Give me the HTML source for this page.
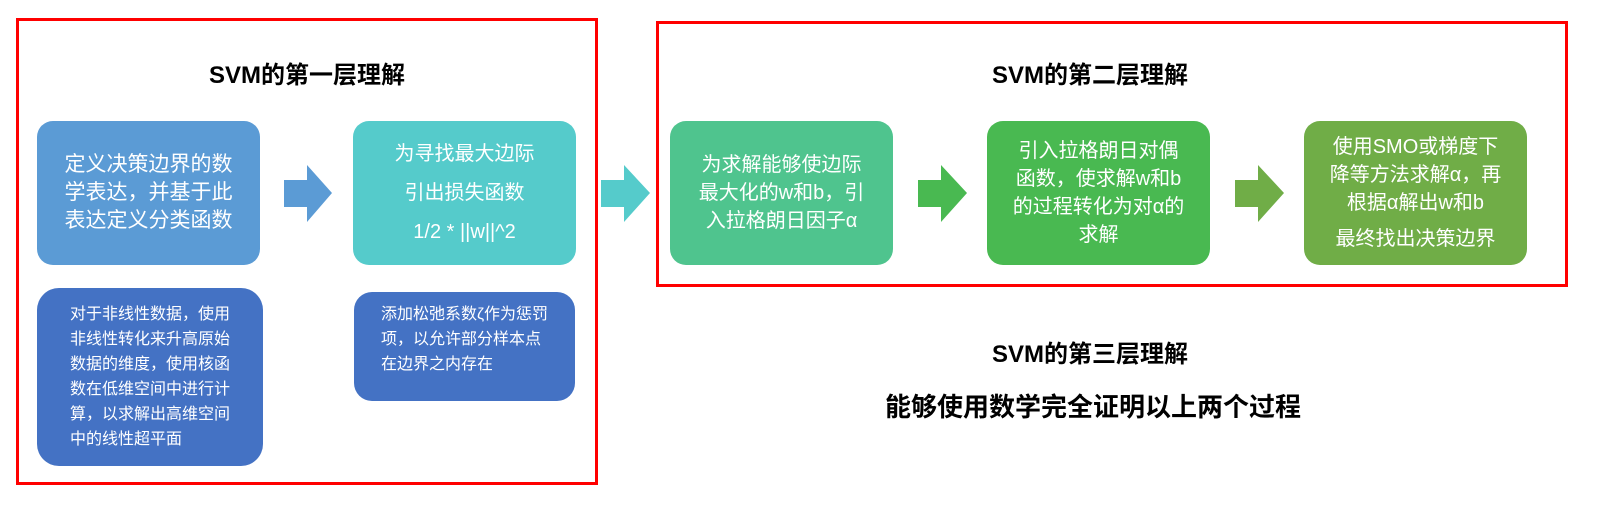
<!DOCTYPE html>
<html><head><meta charset="utf-8"><style>
body{margin:0;width:1609px;height:519px;background:#fff;position:relative;overflow:hidden;font-family:"Liberation Sans","Noto Sans CJK SC",sans-serif;}
.a{position:absolute;box-sizing:border-box;}
.red{border:3px solid #f00;}
.t{position:absolute;font-weight:bold;color:#000;font-size:24px;text-align:center;white-space:nowrap;}
.b{position:absolute;border-radius:16px;color:#fff;display:flex;align-items:center;justify-content:center;text-align:center;box-sizing:border-box;white-space:nowrap;}
.arr{position:absolute;}
</style></head><body>
<div class="a red" style="left:16px;top:18px;width:582px;height:467px"></div>
<div class="a red" style="left:656px;top:21px;width:912px;height:266px"></div>

<div class="t" style="left:157px;top:55px;width:300px">SVM的第一层理解</div>
<div class="t" style="left:940px;top:55px;width:300px">SVM的第二层理解</div>
<div class="t" style="left:940px;top:334px;width:300px">SVM的第三层理解</div>
<div class="t" style="left:793px;top:387px;width:600px;font-size:26px">能够使用数学完全证明以上两个过程</div>

<div class="b" style="left:37px;top:121px;width:223px;height:144px;background:#5b9bd5;font-size:21px;line-height:28px;text-align:left">定义决策边界的数<br>学表达，并基于此<br>表达定义分类函数</div>
<div class="b" style="left:353px;top:121px;width:223px;height:144px;background:#55cbcb;font-size:20px;line-height:39px;flex-direction:column"><div>为寻找最大边际</div><div>引出损失函数</div><div>1/2 * ||w||^2</div></div>
<div class="b" style="left:670px;top:121px;width:223px;height:144px;background:#4fc48e;font-size:20px;line-height:28px">为求解能够使边际<br>最大化的w和b，引<br>入拉格朗日因子α</div>
<div class="b" style="left:987px;top:121px;width:223px;height:144px;background:#49b951;font-size:20px;line-height:28px">引入拉格朗日对偶<br>函数，使求解w和b<br>的过程转化为对α的<br>求解</div>
<div class="b" style="left:1304px;top:121px;width:223px;height:144px;background:#70ad47;font-size:20px;line-height:28px;flex-direction:column"><div>使用SMO或梯度下<br>降等方法求解α，再<br>根据α解出w和b</div><div style="margin-top:8px">最终找出决策边界</div></div>

<div class="b" style="left:37px;top:288px;width:226px;height:178px;background:#4472c4;font-size:16px;line-height:25px;text-align:left;border-radius:22px">对于非线性数据，使用<br>非线性转化来升高原始<br>数据的维度，使用核函<br>数在低维空间中进行计<br>算，以求解出高维空间<br>中的线性超平面</div>
<div class="b" style="left:354px;top:292px;width:221px;height:109px;background:#4472c4;font-size:16px;line-height:25px;padding:10px 0 0 0;text-align:left;align-items:flex-start;border-radius:18px">添加松弛系数ζ作为惩罚<br>项，以允许部分样本点<br>在边界之内存在</div>

<svg class="arr" style="left:0;top:0" width="1609" height="519">
<polygon points="284,180 307,180 307,165 332,193 307,222 307,207 284,207" fill="#5b9bd5"/>
<polygon points="601,180 624,180 624,165 650,193 624,222 624,207 601,207" fill="#55cbcb"/>
<polygon points="918,180 941,180 941,165 967,193 941,222 941,207 918,207" fill="#49b951"/>
<polygon points="1235,180 1258,180 1258,165 1284,193 1258,222 1258,207 1235,207" fill="#70ad47"/>
</svg>
</body></html>
